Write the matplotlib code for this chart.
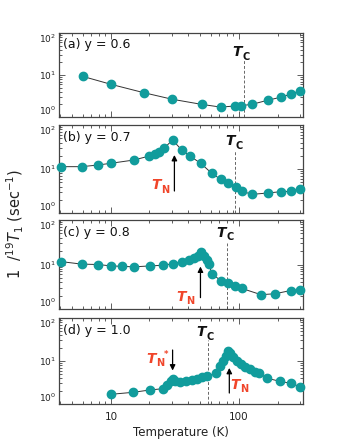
import matplotlib
matplotlib.use("Agg")
import matplotlib.pyplot as plt
import matplotlib.transforms as mtransforms
from matplotlib.ticker import LogLocator, NullFormatter, FixedLocator, FixedFormatter

# ---------------- data ----------------
Ta = [6, 10, 18, 30, 51, 72, 93, 103, 126, 167, 211, 253, 300]
Ra = [9.3, 6.0, 3.8, 2.65, 2.0, 1.72, 1.83, 1.86, 2.0, 2.5, 2.95, 3.5, 4.2]

Tb = [4.1, 5.9, 7.9, 10, 15.1, 19.9, 22.1, 23.8, 25.9, 30.3, 35.7, 41.4, 50.2,
      61.2, 72, 82.5, 94.8, 105, 126, 168, 212, 253, 300]
Rb = [11.3, 11.3, 12.3, 13.5, 16.0, 19.7, 21.9, 24.7, 29.5, 45.6, 27, 19.7, 13.5,
      8.0, 5.8, 4.7, 3.85, 3.15, 2.65, 2.85, 3.05, 3.1, 3.6]

Tc = [4.1, 5.9, 7.9, 10, 12.1, 15.1, 20.2, 25.4, 30.3, 35.6, 40.4, 44.5, 48.1,
      50.7, 53.3, 56, 58, 61.5, 72.3, 82.4, 93, 105, 148.5, 191, 253, 300]
Rc = [11.6, 10.2, 10.0, 9.3, 9.1, 8.85, 9.3, 9.6, 10.4, 11.6, 12.6, 13.8, 15.9,
      19.0, 15.9, 12.6, 10.4, 6.2, 4.3, 3.75, 3.3, 2.9, 2.1, 2.2, 2.6, 2.7]

Td = [10, 14.9, 20.2, 25.4, 27.5, 29.3, 30.3, 31.8, 34.6, 38.5, 42.7, 46.7, 51.2,
      56, 66, 71, 75.4, 79, 82, 85, 89.3, 96, 103, 111, 122, 133, 144, 166, 209,
      253, 300]
Rd = [1.68, 1.87, 2.12, 2.27, 2.81, 3.48, 3.88, 3.48, 3.25, 3.37, 3.61, 3.88, 4.18,
      4.48, 5.18, 7.65, 9.84, 13.1, 17.4, 15.1, 12.2, 10.2, 8.5, 7.4, 6.4, 5.6,
      5.2, 3.96, 3.37, 3.03, 2.53]

panel_labels = ["(a) y = 0.6", "(b) y = 0.7", "(c) y = 0.8", "(d) y = 1.0"]
Tc_vals = [109, 93.7, 80, 57.5]
x_ticks = [10, 100]
x_ticklabels = ["10", "100"]
y_ticks = [1, 10, 100]
y_ticklabels = [r"$10^0$", r"$10^1$", r"$10^2$"]

# ---------------- style ----------------
TEAL = "#119c9c"
RED = "#f0452a"
W, H = 340, 440
fig = plt.figure(figsize=(W / 100, H / 100), dpi=100)

# panel frames in pixels (top, bottom)
frames = [(33, 117), (125, 213), (220, 309), (318, 404)]
left_px, right_px = 59, 303

datasets = [(Ta, Ra), (Tb, Rb), (Tc, Rc), (Td, Rd)]
axes = []
for i, ((top, bot), (T, R)) in enumerate(zip(frames, datasets)):
    ax = fig.add_axes([left_px / W, 1 - bot / H, (right_px - left_px) / W, (bot - top) / H])
    axes.append(ax)
    ax.set_xscale("log")
    ax.set_yscale("log")
    ax.set_xlim(3.93, 316)
    ax.set_ylim(1, 100)
    ax.plot(T, R, "-", color="#333333", lw=0.7, zorder=2)
    ax.plot(T, R, "o", color=TEAL, ms=6, mec=TEAL, zorder=3, clip_on=False)
    ax.xaxis.set_major_locator(FixedLocator(x_ticks))
    ax.xaxis.set_major_formatter(FixedFormatter(x_ticklabels if i == 3 else ["", ""]))
    ax.xaxis.set_minor_locator(LogLocator(base=10, subs=range(2, 10)))
    ax.xaxis.set_minor_formatter(NullFormatter())
    ax.yaxis.set_major_locator(FixedLocator(y_ticks))
    ax.yaxis.set_major_formatter(FixedFormatter(y_ticklabels))
    ax.yaxis.set_minor_locator(LogLocator(base=10, subs=range(2, 10)))
    ax.yaxis.set_minor_formatter(NullFormatter())
    ax.tick_params(which="both", direction="in", top=True, right=True,
                   width=0.6, color="#444444")
    ax.tick_params(which="major", length=4)
    ax.tick_params(which="minor", length=2)
    ax.tick_params(axis="y", labelsize=6.5, pad=2, labelcolor="#222222")
    ax.tick_params(axis="x", labelsize=7.5, pad=6, labelcolor="#222222")
    yt = ax.yaxis.get_major_ticks()
    yt[0].label1.set_verticalalignment("bottom")
    yt[2].label1.set_verticalalignment("top")
    for s in ax.spines.values():
        s.set_linewidth(0.9)
        s.set_color("#444444")
    ax.text(0.015, 0.86, panel_labels[i], transform=ax.transAxes, fontsize=9,
            ha="left", va="center", color="#111111")


def sub_label(ax, x, y, main, sub, color, fs=10, star=False):
    ax.text(x, y, main, color=color, fontsize=fs, fontweight="bold",
            fontstyle="italic", ha="right", va="baseline", zorder=5)
    tr = mtransforms.offset_copy(ax.transData, fig=fig, x=0.3, y=-2.5, units="points")
    ax.text(x, y, sub, transform=tr, color=color, fontsize=fs * 0.7,
            fontweight="bold", ha="left", va="baseline", zorder=5)
    if star:
        tr2 = mtransforms.offset_copy(ax.transData, fig=fig, x=5.5, y=4.5, units="points")
        ax.text(x, y, "*", transform=tr2, color=color, fontsize=fs * 0.6,
                fontweight="bold", ha="left", va="baseline", zorder=5)


def arrow(ax, x, y_tail, y_head):
    ax.annotate("", xy=(x, y_head), xytext=(x, y_tail),
                arrowprops=dict(arrowstyle="-|>", color="black", lw=0.9,
                                mutation_scale=8, shrinkA=0, shrinkB=0), zorder=4)


# Tc lines and labels
tc_top = [22.8, 27, 31, 31]
tc_lab = [(105, 28), (93, 35), (79, 42.5), (55, 38)]
for ax, tcv, tt, (lx, ly) in zip(axes, Tc_vals, tc_top, tc_lab):
    ax.plot([tcv, tcv], [1, tt], ls=(0, (3, 2)), color="#666666", lw=0.7, zorder=1)
    sub_label(ax, lx, ly, "T", "C", "#111111", fs=10)

# TN annotations
arrow(axes[1], 31.3, 3.16, 20.8)
sub_label(axes[1], 24.6, 3.5, "T", "N", RED, fs=10)

arrow(axes[2], 50, 1.8, 9.0)
sub_label(axes[2], 38.5, 1.53, "T", "N", RED, fs=10)

arrow(axes[3], 84, 1.8, 6.9)
sub_label(axes[3], 102, 2.23, "T", "N", RED, fs=10)

arrow(axes[3], 30.3, 18, 6.0)
sub_label(axes[3], 22.5, 9.1, "T", "N", RED, fs=10, star=True)

fig.text(0.045, 0.49, r"1  /$^{19}T_1$ (sec$^{-1}$)", rotation=90, fontsize=10.5,
         ha="center", va="center", color="#222222")
fig.text((left_px + right_px) / 2 / W, 1 - 432 / H, "Temperature (K)", fontsize=8.5,
         ha="center", va="center", color="#222222")

fig.savefig("out.png", dpi=100)
